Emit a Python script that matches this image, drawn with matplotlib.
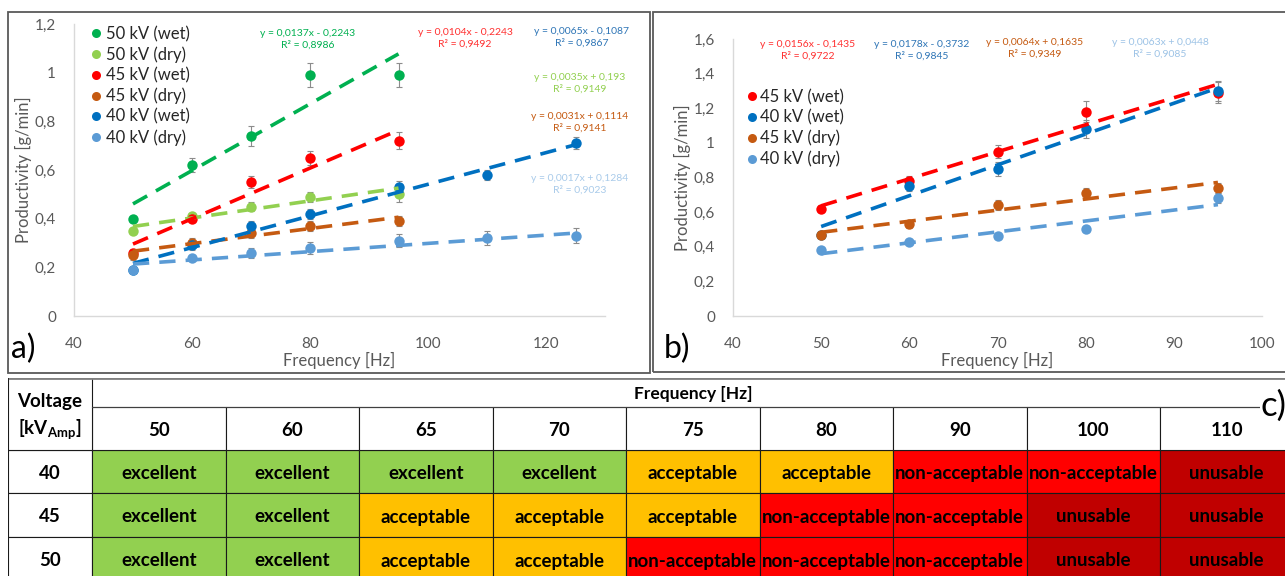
import matplotlib
matplotlib.use("Agg")
import matplotlib.pyplot as plt
from matplotlib.patches import Rectangle
from matplotlib.lines import Line2D
import numpy as np

plt.rcParams['font.family'] = ['Lato', 'DejaVu Sans']
plt.rcParams['mathtext.fontset'] = 'custom'
plt.rcParams['mathtext.rm'] = 'Lato'
plt.rcParams['mathtext.bf'] = 'Lato:bold'

W, H = 1285, 576

# ---------------- Panel a data ----------------
a_freq_short = [50, 60, 70, 80, 95]
a_freq_long = [50, 60, 70, 80, 95, 110, 125]

a_labels = ["50 kV (wet)", "50 kV (dry)", "45 kV (wet)", "45 kV (dry)", "40 kV (wet)", "40 kV (dry)"]
a_colors = ["#00B050", "#92D050", "#FF0000", "#C55A11", "#0070C0", "#5B9BD5"]
a_eq_colors = ["#00B050", "#92D050", "#FF3030", "#C55A11", "#2E75B6", "#A9CBEA"]

a_50wet = [0.40, 0.62, 0.74, 0.99, 0.99]
a_50wet_err = [0.01, 0.03, 0.04, 0.05, 0.05]
a_50dry = [0.35, 0.41, 0.45, 0.49, 0.50]
a_50dry_err = [0.01, 0.01, 0.02, 0.02, 0.03]
a_45wet = [0.26, 0.40, 0.55, 0.65, 0.72]
a_45wet_err = [0.015, 0.015, 0.025, 0.03, 0.035]
a_45dry = [0.25, 0.30, 0.34, 0.37, 0.39]
a_45dry_err = [0.02, 0.02, 0.02, 0.02, 0.02]
a_40wet = [0.19, 0.29, 0.37, 0.42, 0.53, 0.58, 0.71]
a_40wet_err = [0.01, 0.02, 0.02, 0.02, 0.025, 0.02, 0.025]
a_40dry = [0.19, 0.24, 0.26, 0.28, 0.31, 0.32, 0.33]
a_40dry_err = [0.01, 0.01, 0.02, 0.025, 0.025, 0.03, 0.03]

a_slopes = [0.0137, 0.0035, 0.0104, 0.0031, 0.0065, 0.0017]
a_intercepts = [-0.2243, 0.193, -0.2243, 0.1114, -0.1087, 0.1284]
a_eq_text = ["y = 0,0137x - 0,2243\nR² = 0,8986",
             "y = 0,0035x + 0,193\nR² = 0,9149",
             "y = 0,0104x - 0,2243\nR² = 0,9492",
             "y = 0,0031x + 0,1114\nR² = 0,9141",
             "y = 0,0065x - 0,1087\nR² = 0,9867",
             "y = 0,0017x + 0,1284\nR² = 0,9023"]

a_xticks = [40, 60, 80, 100, 120]
a_yticks = [0, 0.2, 0.4, 0.6, 0.8, 1.0, 1.2]
a_yticklabels = ["0", "0,2", "0,4", "0,6", "0,8", "1", "1,2"]

# ---------------- Panel b data ----------------
b_freq = [50, 60, 70, 80, 95]
b_labels = ["45 kV (wet)", "40 kV (wet)", "45 kV (dry)", "40 kV (dry)"]
b_colors = ["#FF0000", "#0070C0", "#C55A11", "#5B9BD5"]
b_eq_colors = ["#FF3030", "#2E75B6", "#C55A11", "#9DC3E6"]
b_45wet = [0.62, 0.78, 0.95, 1.18, 1.29]
b_45wet_err = [0.02, 0.03, 0.04, 0.06, 0.06]
b_40wet = [0.47, 0.75, 0.85, 1.08, 1.30]
b_40wet_err = [0.02, 0.03, 0.04, 0.05, 0.06]
b_45dry = [0.47, 0.53, 0.64, 0.71, 0.74]
b_45dry_err = [0.02, 0.02, 0.03, 0.03, 0.03]
b_40dry = [0.38, 0.43, 0.46, 0.50, 0.68]
b_40dry_err = [0.01, 0.01, 0.01, 0.01, 0.03]
b_slopes = [0.0156, 0.0178, 0.0064, 0.0063]
b_intercepts = [-0.1435, -0.3732, 0.1635, 0.0448]
b_eq_text = ["y = 0,0156x - 0,1435\nR² = 0,9722",
             "y = 0,0178x - 0,3732\nR² = 0,9845",
             "y = 0,0064x + 0,1635\nR² = 0,9349",
             "y = 0,0063x + 0,0448\nR² = 0,9085"]
b_xticks = [40, 50, 60, 70, 80, 90, 100]
b_yticks = [0, 0.2, 0.4, 0.6, 0.8, 1.0, 1.2, 1.4, 1.6]
b_yticklabels = ["0", "0,2", "0,4", "0,6", "0,8", "1", "1,2", "1,4", "1,6"]

# ---------------- Table data ----------------
t_freqs = ["50", "60", "65", "70", "75", "80", "90", "100", "110"]
t_voltages = ["40", "45", "50"]
t_ratings = [
    ["excellent", "excellent", "excellent", "excellent", "acceptable", "acceptable", "non-acceptable", "non-acceptable", "unusable"],
    ["excellent", "excellent", "acceptable", "acceptable", "acceptable", "non-acceptable", "non-acceptable", "unusable", "unusable"],
    ["excellent", "excellent", "acceptable", "acceptable", "non-acceptable", "non-acceptable", "non-acceptable", "unusable", "unusable"],
]
rating_colors = {"excellent": "#92D050", "acceptable": "#FFC000",
                 "non-acceptable": "#FF0000", "unusable": "#C00000"}

# ---------------- helpers ----------------
def fx(px):
    return px / W

def fy(py):
    return 1 - py / H

fig = plt.figure(figsize=(W / 100, H / 100), dpi=100)
fig.patch.set_facecolor("white")

TICK_C = "#595959"
AX_C = "#D9D9D9"

def style_axes(ax, xticks, yticks, yticklabels, xlim, ylim):
    ax.set_xlim(*xlim)
    ax.set_ylim(*ylim)
    ax.set_xticks(xticks)
    ax.set_xticklabels([str(t) for t in xticks])
    ax.set_yticks(yticks)
    ax.set_yticklabels(yticklabels)
    for s in ["top", "right"]:
        ax.spines[s].set_visible(False)
    for s in ["bottom", "left"]:
        ax.spines[s].set_color(AX_C)
        ax.spines[s].set_linewidth(1.0)
    ax.tick_params(axis="both", length=0, labelsize=11, colors=TICK_C)
    ax.tick_params(axis="x", pad=15)
    ax.tick_params(axis="y", pad=13)
    ax.set_facecolor("none")

def plot_series(ax, x, y, err, color, label, slope, icpt):
    ax.errorbar(x, y, yerr=err, fmt="none", ecolor="#8C8C8C", elinewidth=0.8,
                capsize=2, capthick=0.8, zorder=2)
    ax.plot(x, y, "o", color=color, markersize=7.5, label=label, zorder=3,
            markeredgewidth=0)
    xs = np.array([min(x), max(x)], dtype=float)
    ax.plot(xs, slope * xs + icpt, color=color, lw=2.6, ls=(0, (4.5, 2.8)),
            zorder=4, solid_capstyle="butt", dash_capstyle="butt")

# ---------------- frames ----------------
fig.patches.append(Rectangle((fx(8), fy(373)), fx(650) - fx(8), fy(12) - fy(373),
                             transform=fig.transFigure, fill=False,
                             edgecolor="#595959", lw=1.3, zorder=0))
fig.patches.append(Rectangle((fx(653), fy(372)), fx(1300) - fx(653), fy(12) - fy(372),
                             transform=fig.transFigure, fill=False,
                             edgecolor="#595959", lw=1.3, zorder=0))

# ---------------- Panel a ----------------
axa = fig.add_axes([fx(74), fy(316), fx(605) - fx(74), fy(24) - fy(316)])
style_axes(axa, a_xticks, a_yticks, a_yticklabels, (40, 130), (0, 1.2))
a_data = [(a_freq_short, a_50wet, a_50wet_err), (a_freq_short, a_50dry, a_50dry_err),
          (a_freq_short, a_45wet, a_45wet_err), (a_freq_short, a_45dry, a_45dry_err),
          (a_freq_long, a_40wet, a_40wet_err), (a_freq_long, a_40dry, a_40dry_err)]
for i, (x, y, e) in enumerate(a_data):
    plot_series(axa, x, y, e, a_colors[i], a_labels[i], a_slopes[i], a_intercepts[i])
axa.set_ylabel("Productivity [g/min]", fontsize=12, color=TICK_C, labelpad=2)
axa.set_xlabel("Frequency [Hz]", fontsize=12, color=TICK_C, labelpad=1)
handles_a = [Line2D([], [], ls="none", marker="o", color=c, markersize=6.5,
                    markeredgewidth=0) for c in a_colors]
axa.legend(handles_a, a_labels, loc="upper left", bbox_to_anchor=(fx(90), fy(26)),
           bbox_transform=fig.transFigure, frameon=False, fontsize=12,
           handlelength=0.75, handletextpad=0.2, labelspacing=0.26,
           borderpad=0, borderaxespad=0, labelcolor="#262626")

a_eq_pos = [(308, 39), (580, 83), (465, 38), (580, 122), (582, 37), (580, 184)]
for i, (px, py) in enumerate(a_eq_pos):
    fig.text(fx(px), fy(py), a_eq_text[i], color=a_eq_colors[i], fontsize=7.5,
             ha="center", va="center", linespacing=1.35)

fig.text(fx(11), fy(349), "a)", fontsize=23, color="#000000", ha="left", va="center")

# ---------------- Panel b ----------------
axb = fig.add_axes([fx(733), fy(316), fx(1262) - fx(733), fy(39) - fy(316)])
style_axes(axb, b_xticks, b_yticks, b_yticklabels, (40, 100), (0, 1.6))
b_data = [(b_freq, b_45wet, b_45wet_err), (b_freq, b_40wet, b_40wet_err),
          (b_freq, b_45dry, b_45dry_err), (b_freq, b_40dry, b_40dry_err)]
for i, (x, y, e) in enumerate(b_data):
    plot_series(axb, x, y, e, b_colors[i], b_labels[i], b_slopes[i], b_intercepts[i])
axb.set_ylabel("Productivity [g/min]", fontsize=12, color=TICK_C, labelpad=2)
axb.set_xlabel("Frequency [Hz]", fontsize=12, color=TICK_C, labelpad=1)
handles_b = [Line2D([], [], ls="none", marker="o", color=c, markersize=6.5,
                    markeredgewidth=0) for c in b_colors]
axb.legend(handles_b, b_labels, loc="upper left", bbox_to_anchor=(fx(746), fy(89)),
           bbox_transform=fig.transFigure, frameon=False, fontsize=12,
           handlelength=0.75, handletextpad=0.1, labelspacing=0.26,
           borderpad=0, borderaxespad=0, labelcolor="#262626")

b_eq_pos = [(808, 50), (922, 50), (1035, 48), (1160, 48)]
for i, (px, py) in enumerate(b_eq_pos):
    fig.text(fx(px), fy(py), b_eq_text[i], color=b_eq_colors[i], fontsize=7.5,
             ha="center", va="center", linespacing=1.35)

fig.text(fx(664), fy(349), "b)", fontsize=23, color="#000000", ha="left", va="center")

# ---------------- Table (c) ----------------
col_unit = 133.5
vcol = (92 - 8) / col_unit
ncol = len(t_freqs)
left_px = 8
right_px = 92 + ncol * col_unit
top_px, bot_px = 378, 581
axt = fig.add_axes([fx(left_px), fy(bot_px), fx(right_px) - fx(left_px), fy(top_px) - fy(bot_px)])
axt.set_xlim(-vcol, ncol)
axt.set_ylim(bot_px - top_px, 0)
axt.axis("off")

row_edges = [0, 29, 72, 115, 159, 203]
LINE_C = "#1A1A1A"
FS = 13.5
# data cells
for r, volt in enumerate(t_voltages):
    y0 = row_edges[r + 2]
    h = row_edges[r + 3] - y0
    axt.add_patch(Rectangle((-vcol, y0), vcol, h, facecolor="white",
                            edgecolor=LINE_C, lw=0.8))
    axt.text(-vcol / 2, y0 + h / 2 + 2, volt, ha="center", va="center",
             fontsize=FS, fontweight="bold", color="black")
    for c, rating in enumerate(t_ratings[r]):
        axt.add_patch(Rectangle((c, y0), 1, h, facecolor=rating_colors[rating],
                                edgecolor=LINE_C, lw=0.8))
        axt.text(c + 0.5, y0 + h / 2 + 2, rating, ha="center", va="center",
                 fontsize=FS, fontweight="bold", color="black")
# header frequency cells
for c, f in enumerate(t_freqs):
    y0 = row_edges[1]
    h = row_edges[2] - y0
    axt.add_patch(Rectangle((c, y0), 1, h, facecolor="white",
                            edgecolor=LINE_C, lw=0.8))
    axt.text(c + 0.5, y0 + h / 2 + 2, f, ha="center", va="center",
             fontsize=FS, fontweight="bold", color="black")
# voltage header (spanning two header rows)
axt.add_patch(Rectangle((-vcol, 0), vcol, row_edges[2], facecolor="white",
                        edgecolor=LINE_C, lw=0.8))
axt.text(-vcol / 2, 23, "Voltage", ha="center", va="center", fontsize=FS,
         fontweight="bold", color="black")
axt.text(-vcol / 2, 52, r"[kV$_{\mathbf{Amp}}$]", ha="center", va="center",
         fontsize=FS, fontweight="bold", color="black")
# frequency title
axt.plot([0, ncol], [row_edges[1], row_edges[1]], color="#404040", lw=0.8)
axt.text(ncol / 2, row_edges[1] / 2 + 1, "Frequency [Hz]", ha="center", va="center",
         fontsize=12.5, fontweight="bold", color="black")
axt.plot([-vcol, ncol], [0, 0], color="#808080", lw=2)
axt.plot([-vcol, -vcol], [0, bot_px - top_px], color=LINE_C, lw=1.2)

# c) label
axt.text((1261 - 92) / col_unit, 28, "c)", ha="left", va="center", fontsize=25,
         color="black", bbox=dict(facecolor="white", edgecolor="none", pad=1))

fig.savefig("out.png", dpi=100, facecolor="white")
